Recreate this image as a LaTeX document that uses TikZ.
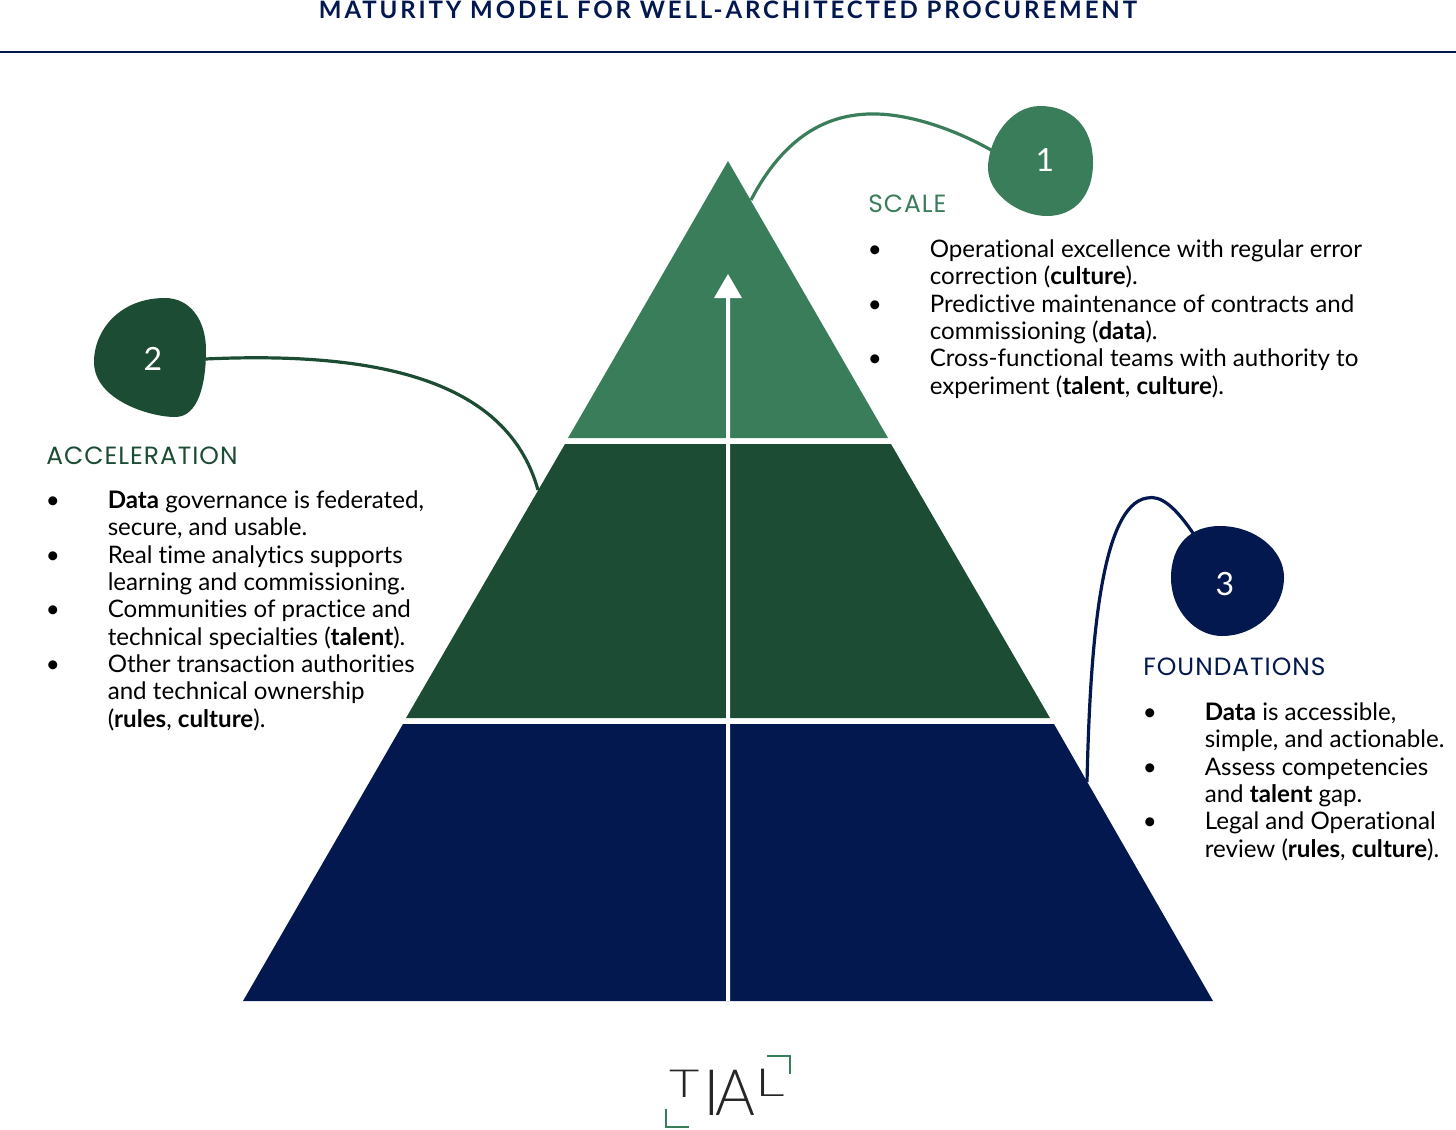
\documentclass[tikz,border=0pt]{standalone}
\usepackage{fontspec}
\usepackage{graphicx}
\setmainfont[Ligatures=NoCommon]{Lato}
\newfontfamily\headfont[LetterSpace=4]{Poppins}
\newfontfamily\titlefont[LetterSpace=12,BoldFont={Lato Bold}]{Lato}
\newfontfamily\logofont{Lato Light}
\usepackage{array}
\usepackage{tikz}
\definecolor{scaleGreen}{HTML}{3A7D5A}
\definecolor{accelGreen}{HTML}{1C4C33}
\definecolor{foundNavy}{HTML}{02184F}
\newcommand{\itemrow}[1]{\textbullet & #1 \\}
\newcommand{\controw}[1]{ & #1 \\}
\tikzstyle{link} = [line width=2.4pt]
\tikzstyle{tier} = [draw=none]
\tikzstyle{blobNum} = [circle, minimum size=78pt, inner sep=0pt, text=white, font=\fontsize{24}{28}\selectfont]
\tikzstyle{head} = [anchor=west, inner sep=0pt, font=\headfont\fontsize{18.7}{22}\selectfont]
\tikzstyle{body} = [anchor=north west, inner sep=0pt, font=\fontsize{18.1}{20.5}\selectfont]
\begin{document}
\begin{tikzpicture}[x=0.75pt, y=-0.75pt]
	\useasboundingbox (0,0) rectangle (1456,1129);
	\node (title) [text=foundNavy, font=\titlefont\fontsize{18}{22}\selectfont\bfseries] at (728,10) {MATURITY MODEL FOR WELL-ARCHITECTED PROCUREMENT};
	\coordinate (ruleL) at (0,52);
	\coordinate (ruleR) at (1456,52);
	\draw [foundNavy, line width=1.1pt] (ruleL) -- (ruleR);

	\fill [tier, scaleGreen] (728,161) -- (888,438) -- (568,438) -- cycle;
	\fill [tier, accelGreen] (565,444) -- (891,444) -- (1050,718) -- (406,718) -- cycle;
	\fill [tier, foundNavy] (403,724) -- (1054,724) -- (1213,1001) -- (243,1001) -- cycle;
	\fill [white] (726,1001) -- (726,298) -- (714,298) -- (728,274) -- (742,298) -- (730,298) -- (730,1001) -- cycle;

	\node (one) [blobNum] at (1045,160.5) {};
	\node (two) [blobNum] at (153,359) {};
	\node (three) [blobNum] at (1225,584) {};
	\coordinate (topEdge) at (751,200);
	\coordinate (midEdge) at (538,490);
	\coordinate (lowEdge) at (1087,782);
	\draw [link, scaleGreen] (topEdge) .. controls (790,125) and (840,113) .. (877,114) .. controls (915,115) and (960,132) .. (one.170);
	\draw [link, accelGreen] (two.east) .. controls (400,350) and (510,390) .. (midEdge);
	\draw [link, foundNavy] (three.122) .. controls (1175,505) and (1160,495) .. (1147,498) .. controls (1100,505) and (1090,650) .. (lowEdge);

	\fill [scaleGreen] (1040,106) .. controls (1070,106) and (1093,125) .. (1093,163) .. controls (1093,195) and (1075,216) .. (1047,216) .. controls (1020,216) and (988,195) .. (988,168) .. controls (988,140) and (1010,106) .. (1040,106) -- cycle;
	\fill [accelGreen] (165,298) .. controls (190,298) and (206,320) .. (206,350) .. controls (206,385) and (198,417) .. (175,417) .. controls (150,417) and (94,400) .. (94,362) .. controls (94,330) and (120,298) .. (165,298) -- cycle;
	\fill [foundNavy] (1220,526) .. controls (1255,526) and (1284,550) .. (1284,577) .. controls (1284,610) and (1255,636) .. (1222,636) .. controls (1195,636) and (1171,610) .. (1171,578) .. controls (1171,545) and (1190,526) .. (1220,526) -- cycle;
	\node [blobNum] at (one) {1};
	\node [blobNum] at (two) {2};
	\node [blobNum] at (three) {3};

	\node (scale) [head, text=scaleGreen] at (868,204) {SCALE};
	\node (accel) [head, text=accelGreen] at (46,456) {ACCELERATION};
	\node (found) [head, text=foundNavy] at (1143,667) {FOUNDATIONS};

	\node (scaleList) [body] at (867.5,238) {\begin{tabular}{@{}p{46.5pt}@{}l@{}}
		\itemrow{Operational excellence with regular error}
		\controw{correction (\textbf{culture}).}
		\itemrow{Predictive maintenance of contracts and}
		\controw{commissioning (\textbf{data}).}
		\itemrow{Cross-functional teams with authority to}
		\controw{experiment (\textbf{talent}, \textbf{culture}).}
	\end{tabular}};
	\node (accelList) [body] at (45.5,489) {\begin{tabular}{@{}p{46.5pt}@{}l@{}}
		\itemrow{\textbf{Data} governance is federated,}
		\controw{secure, and usable.}
		\itemrow{Real time analytics supports}
		\controw{learning and commissioning.}
		\itemrow{Communities of practice and}
		\controw{technical specialties (\textbf{talent}).}
		\itemrow{Other transaction authorities}
		\controw{and technical ownership}
		\controw{(\textbf{rules}, \textbf{culture}).}
	\end{tabular}};
	\node (foundList) [body] at (1142.5,701) {\begin{tabular}{@{}p{46.5pt}@{}l@{}}
		\itemrow{\textbf{Data} is accessible,}
		\controw{simple, and actionable.}
		\itemrow{Assess competencies}
		\controw{and \textbf{talent} gap.}
		\itemrow{Legal and Operational}
		\controw{review (\textbf{rules}, \textbf{culture}).}
	\end{tabular}};

	\node (logo) [inner sep=0pt, anchor=base, text=black!85, font=\logofont] at (727,1115) {\raisebox{13.5pt}{\scalebox{1.35}[1]{\fontsize{29}{30}\selectfont T}}\kern3pt{\fontsize{48}{50}\selectfont I}\kern-4pt\scalebox{0.95}[1]{\fontsize{48}{50}\selectfont A}\kern0pt\raisebox{14pt}{\scalebox{1.5}[1]{\fontsize{29}{30}\selectfont L}}};
	\coordinate (brA) at (767,1056);
	\coordinate (brB) at (790,1056);
	\coordinate (brC) at (790,1074);
	\coordinate (brD) at (666,1109);
	\coordinate (brE) at (666,1127);
	\coordinate (brF) at (689,1127);
	\draw [scaleGreen, line width=1.2pt] (brA) -- (brB) -- (brC);
	\draw [scaleGreen, line width=1.2pt] (brD) -- (brE) -- (brF);
\end{tikzpicture}
\end{document}
